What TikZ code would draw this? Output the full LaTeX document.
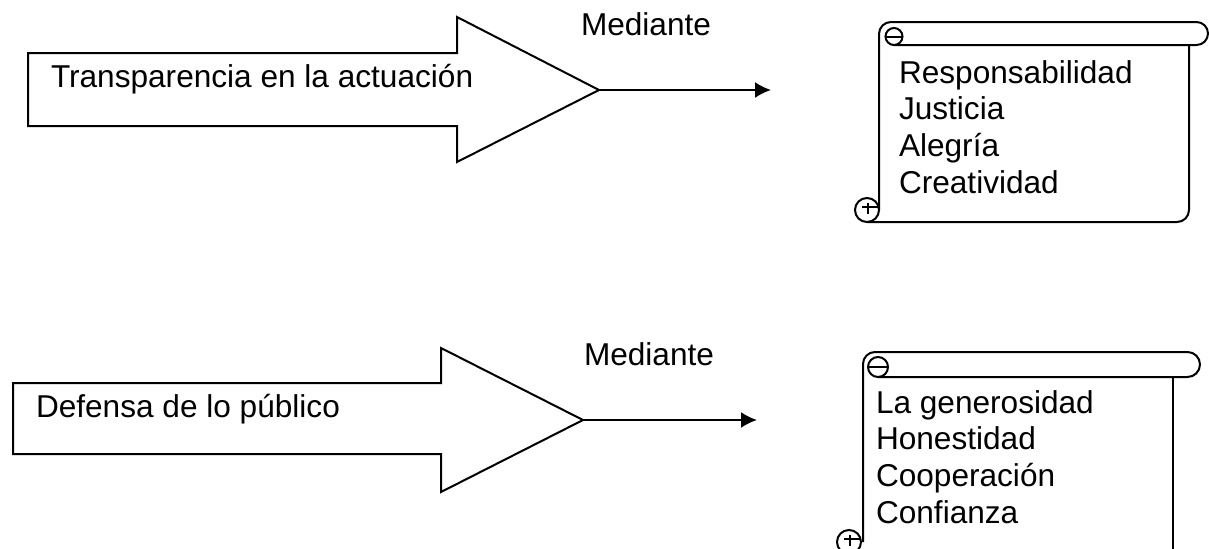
\documentclass[tikz,border=0pt]{standalone}
\usepackage{fontspec}
\setmainfont{Liberation Sans}
\usepackage{tikz}
\usetikzlibrary{arrows.meta}

\begin{document}
\begin{tikzpicture}[x=0.5pt, y=0.5pt, line width=1pt]
\tikzstyle{txt} = [inner sep=0pt, font=\fontsize{15.8}{18.3}\selectfont]
\tikzstyle{lst} = [txt, align=left, anchor=base west]
\tikzstyle{link} = [-{Latex[length=8pt,width=8pt]}]
\useasboundingbox (0,0) rectangle (1209,548);
\clip (0,0) rectangle (1209,548);
% first row
\draw (28,495) -- (457,495) -- (457,531) -- (599,458) -- (457,386) -- (457,422) -- (28,422) -- cycle;
\coordinate (tip1) at (599,458);
\coordinate (end1) at (771,458);
\node [txt, anchor=base west] (t1) at (50,461) {Transparencia en la actuación};
\node [txt, anchor=base west] (m1) at (580,513) {Mediante};
\draw [link] (tip1) -- (end1);
\draw (879,338) -- (879,514) arc (180:90:12) -- (1196.5,526) arc (90:-90:11.5) -- (894,503);
\draw (894,511.5) circle (8.5);
\draw (885.5,511.5) -- (903,511.5);
\draw (1189,503) -- (1189,338) arc (0:-90:12) -- (867,326);
\draw (867,338) circle (12);
\draw (862,341) -- (879,341);
\draw (868,345) -- (868,334);
% last line of the list sits on the anchor
\node [lst] (s1) at (898,355) {Responsabilidad\\Justicia\\Alegría\\Creatividad};
% second row
\draw (13,165) -- (441,165) -- (441,200) -- (583,128) -- (441,56) -- (441,94) -- (13,94) -- cycle;
\coordinate (tip2) at (583,128);
\coordinate (end2) at (757,128);
\node [txt, anchor=base west] (t2) at (35,131) {Defensa de lo público};
\node [txt, anchor=base west] (m2) at (583,183) {Mediante};
\draw [link] (tip2) -- (end2);
\draw (863,6) -- (863,184) arc (180:90:12) -- (1187.5,196) arc (90:-90:12.5) -- (878,171);
\draw (878,181) circle (10);
\draw (868,181) -- (888,181);
\draw (1173,171) -- (1173,-10);
\draw (849,6) circle (12);
\draw (844,9) -- (861,9);
\draw (850,13) -- (850,2);
\node [lst] (s2) at (875,25) {La generosidad\\Honestidad\\Cooperación\\Confianza};
\end{tikzpicture}
\end{document}
